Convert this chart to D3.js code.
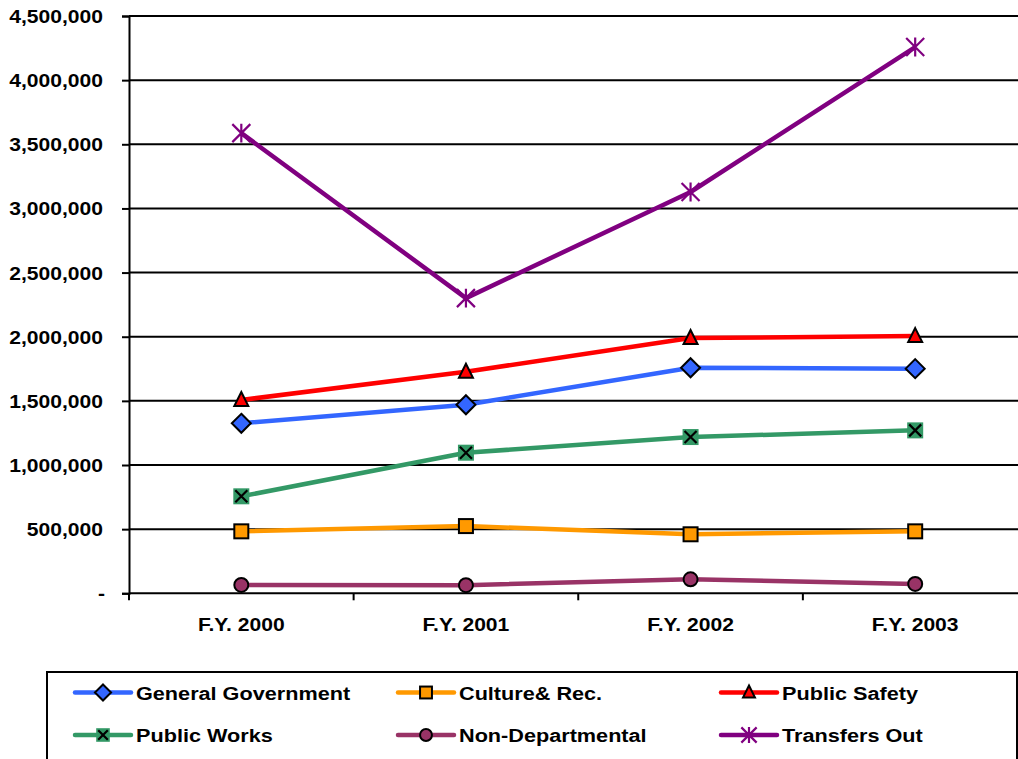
<!DOCTYPE html>
<html>
<head>
<meta charset="utf-8">
<script src="https://cdn.jsdelivr.net/npm/d3@7"></script>
<style>
  html, body { margin: 0; padding: 0; background: #fff; }
  svg { display: block; }
  text { font-family: "Liberation Sans", Arial, sans-serif; font-weight: bold; font-size: 18.5px; fill: #000; }
  .legend text { font-size: 19px; }
</style>
</head>
<body>
<svg id="chart" width="1018" height="759"></svg>
<script>
// Expenditures by function, fiscal years 2000-2003
const categories = ["F.Y. 2000", "F.Y. 2001", "F.Y. 2002", "F.Y. 2003"];
const generalGovernment = [1325000, 1470000, 1758000, 1751000];
const cultureRec = [483000, 524000, 460000, 483000];
const publicSafety = [1507000, 1727000, 1990000, 2005000];
const publicWorks = [756000, 1096000, 1218000, 1270000];
const nonDepartmental = [65000, 63000, 109000, 73000];
const transfersOut = [3587000, 2301000, 3128000, 4258000];
const seriesNames = ["General Government", "Culture& Rec.", "Public Safety",
                     "Public Works", "Non-Departmental", "Transfers Out"];
const yTicks = [0, 500000, 1000000, 1500000, 2000000, 2500000, 3000000, 3500000, 4000000, 4500000];

const series = [
  { name: seriesNames[0], values: generalGovernment, color: "#3366ff", marker: "diamond" },
  { name: seriesNames[1], values: cultureRec,        color: "#ff9900", marker: "square" },
  { name: seriesNames[2], values: publicSafety,      color: "#ff0000", marker: "triangle" },
  { name: seriesNames[3], values: publicWorks,       color: "#339966", marker: "xsquare" },
  { name: seriesNames[4], values: nonDepartmental,   color: "#993366", marker: "circle" },
  { name: seriesNames[5], values: transfersOut,      color: "#800080", marker: "star" }
];

const svg = d3.select("#chart");
const SX = 1.14; // horizontal text stretch

const plot = { left: 129, right: 1027.5, top: 16, bottom: 593.3 };

const x = d3.scaleBand().domain(categories).range([plot.left, plot.right]).padding(0);
const cx = c => x(c) + x.bandwidth() / 2;
const y = d3.scaleLinear().domain([0, 4500000]).range([plot.bottom, plot.top]);

function stretchedText(g, tx, ty, str, anchor) {
  return g.append("text")
    .attr("transform", `translate(${tx},${ty}) scale(${SX},1)`)
    .attr("text-anchor", anchor || "start")
    .text(str);
}

// Horizontal gridlines
svg.append("g").selectAll("line")
  .data(yTicks.filter(d => d > 0))
  .join("line")
  .attr("x1", plot.left).attr("x2", plot.right)
  .attr("y1", d => y(d)).attr("y2", d => y(d))
  .attr("stroke", "#000").attr("stroke-width", 2);

// Y axis
const yAxis = svg.append("g")
  .attr("transform", `translate(${plot.left},0)`)
  .call(d3.axisLeft(y).tickValues(yTicks).tickSize(7).tickPadding(0)
        .tickFormat(d => d === 0 ? "-" : d3.format(",")(d)));
yAxis.select(".domain").attr("stroke", "#000").attr("stroke-width", 2);
yAxis.selectAll(".tick line").attr("stroke", "#000").attr("stroke-width", 2);
yAxis.selectAll(".tick text")
  .attr("x", null).attr("dy", null)
  .attr("transform", d => `translate(${d === 0 ? -24 : -26},6.5) scale(${SX},1)`)
  .style("font-family", "'Liberation Sans', Arial, sans-serif")
  .style("font-weight", "bold").style("font-size", "18.5px").attr("fill", "#000");

// X axis with ticks at category boundaries
const xAxis = svg.append("g").attr("transform", `translate(0,${plot.bottom})`);
xAxis.append("line").attr("x1", plot.left).attr("x2", plot.right)
  .attr("stroke", "#000").attr("stroke-width", 2);
xAxis.selectAll("line.tick")
  .data(categories)
  .join("line").attr("class", "tick")
  .attr("x1", d => x(d)).attr("x2", d => x(d))
  .attr("y1", 0).attr("y2", 7)
  .attr("stroke", "#000").attr("stroke-width", 2);
categories.forEach(c => stretchedText(svg, cx(c), 631, c, "middle"));

// Marker drawing
function drawMarker(g, type, color, px, py, s) {
  const k = s || 1;
  if (type === "diamond") {
    const r = 9.5 * k;
    g.append("path").attr("d", `M${px},${py - r}L${px + r},${py}L${px},${py + r}L${px - r},${py}Z`)
      .attr("fill", color).attr("stroke", "#000").attr("stroke-width", 2);
  } else if (type === "square") {
    const r = 7 * k;
    g.append("rect").attr("x", px - r).attr("y", py - r).attr("width", 2 * r).attr("height", 2 * r)
      .attr("fill", color).attr("stroke", "#000").attr("stroke-width", 2);
  } else if (type === "triangle") {
    const r = 7 * k;
    g.append("path").attr("d", `M${px},${py - r - 1}L${px + r},${py + r - 1}L${px - r},${py + r - 1}Z`)
      .attr("fill", color).attr("stroke", "#000").attr("stroke-width", 2).attr("stroke-linejoin", "miter");
  } else if (type === "xsquare") {
    const r = 8 * k;
    g.append("rect").attr("x", px - r).attr("y", py - r).attr("width", 2 * r).attr("height", 2 * r)
      .attr("fill", color);
    const a = r - 2;
    g.append("path").attr("d", `M${px - a},${py - a}L${px + a},${py + a}M${px + a},${py - a}L${px - a},${py + a}`)
      .attr("stroke", "#000").attr("stroke-width", 2.2);
  } else if (type === "circle") {
    g.append("circle").attr("cx", px).attr("cy", py).attr("r", 7 * k)
      .attr("fill", color).attr("stroke", "#000").attr("stroke-width", 2);
  } else if (type === "star") {
    const r = 9 * k;
    g.append("path").attr("d",
      `M${px - r},${py - r}L${px + r},${py + r}M${px + r},${py - r}L${px - r},${py + r}M${px},${py - r * 1.05}L${px},${py + r * 1.05}`)
      .attr("stroke", color).attr("stroke-width", 2.2);
  }
}

// Series lines and markers
const line = d3.line().x((d, i) => cx(categories[i])).y(d => y(d));
const linesG = svg.append("g");
series.forEach(s => {
  linesG.append("path").datum(s.values)
    .attr("d", line).attr("fill", "none")
    .attr("stroke", s.color).attr("stroke-width", 4.5)
    .attr("stroke-linejoin", "round");
});
series.forEach(s => {
  const g = svg.append("g");
  s.values.forEach((v, i) => drawMarker(g, s.marker, s.color, cx(categories[i]), y(v), 1));
});

// Legend
const legend = svg.append("g").attr("class", "legend");
legend.append("rect").attr("x", 47).attr("y", 672).attr("width", 970).attr("height", 100)
  .attr("fill", "none").attr("stroke", "#000").attr("stroke-width", 2);
const colX = [75, 398, 721];
const rowY = [692.5, 735];
series.forEach((s, i) => {
  const lx = colX[i % 3], ly = rowY[Math.floor(i / 3)];
  legend.append("line").attr("x1", lx).attr("x2", lx + 56).attr("y1", ly).attr("y2", ly)
    .attr("stroke", s.color).attr("stroke-width", 4.5).attr("stroke-linecap", "round");
  drawMarker(legend, s.marker, s.color, lx + 28, ly, 0.85);
  stretchedText(legend, lx + 61, ly + 7, s.name, "start");
});
</script>
</body>
</html>
